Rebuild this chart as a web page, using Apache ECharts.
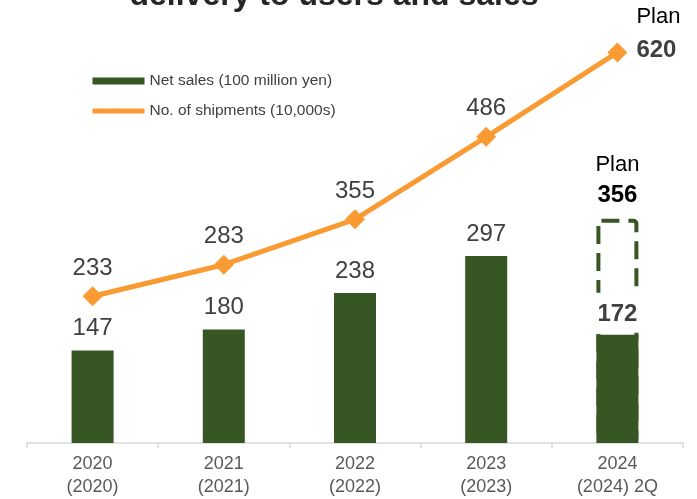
<!DOCTYPE html>
<html>
<head>
<meta charset="utf-8">
<script src="https://cdn.jsdelivr.net/npm/echarts@6/dist/echarts.min.js"></script>
<style>
  html, body { margin: 0; padding: 0; background: #fff; }
  #chart { width: 697px; height: 499px; }
</style>
</head>
<body>
<div id="chart"></div>
<script>
// Fiscal years on the category axis
const years = ['2020\n(2020)', '2021\n(2021)', '2022\n(2022)', '2023\n(2023)', '2024\n(2024) 2Q'];
// Net sales, 100 million yen (last year is results to 2Q)
const netSales = [147, 180, 238, 297, 172];
// Full-year net sales plan for the current year
const salesPlan = [null, null, null, null, 356];
// Number of shipments, 10,000s (last value is the plan)
const shipments = [233, 283, 355, 486, 620];

const FONT = "'Liberation Sans', Arial, sans-serif";
const GREEN = '#375623';
const ORANGE = '#F99A32';
const TEXT = '#404040';
const last = netSales.length - 1;

const chart = echarts.init(document.getElementById('chart'), null, { renderer: 'canvas' });

const option = {
  animation: false,
  textStyle: { fontFamily: FONT },
  graphic: [{
    type: 'text',
    x: 334,
    y: -4,
    style: {
      text: 'delivery to users and sales',
      font: 'bold 32px ' + FONT,
      fill: '#262626',
      align: 'center',
      verticalAlign: 'middle'
    }
  }],
  legend: {
    orient: 'vertical',
    left: 85,
    top: 68,
    itemWidth: 52,
    itemHeight: 7,
    itemGap: 14,
    textStyle: { fontSize: 15.5, color: TEXT, fontFamily: FONT },
    data: [
      { name: 'Net sales (100 million yen)', icon: 'rect' },
      { name: 'No. of shipments (10,000s)', lineStyle: { width: 5 } }
    ]
  },
  grid: { left: 27, right: 14, top: 2, bottom: 56 },
  xAxis: {
    type: 'category',
    data: years,
    axisLine: { lineStyle: { color: '#D9D9D9', width: 1.5 } },
    axisTick: { show: true, length: 5, lineStyle: { color: '#D9D9D9', width: 1.5 } },
    axisLabel: { fontSize: 18, lineHeight: 23, color: '#595959', margin: 10, fontFamily: FONT }
  },
  yAxis: {
    type: 'value',
    min: 0,
    max: 700,
    show: false,
    splitLine: { show: false }
  },
  series: [
    {
      name: 'Sales plan',
      type: 'bar',
      barWidth: 42,
      barGap: '-100%',
      data: salesPlan,
      itemStyle: {
        color: 'rgba(0,0,0,0)',
        borderColor: GREEN,
        borderWidth: 4,
        borderType: [18, 9],
        borderRadius: 3
      },
      label: {
        show: true,
        position: 'top',
        distance: 8,
        formatter: p => '{p|Plan}\n{v|' + p.value + '}',
        rich: {
          p: { fontSize: 22, color: '#000', fontFamily: FONT, lineHeight: 32 },
          v: { fontSize: 24, fontWeight: 'bold', color: '#000', fontFamily: FONT, lineHeight: 30 }
        }
      }
    },
    {
      name: 'Net sales (100 million yen)',
      type: 'bar',
      barWidth: 42,
      barGap: '-100%',
      itemStyle: { color: GREEN },
      data: netSales.map((v, i) => i === last ? {
        value: v,
        label: {
          fontWeight: 'bold',
          backgroundColor: '#fff',
          padding: [10, 4, 6, 4],
          distance: 2
        }
      } : v),
      label: {
        show: true,
        position: 'top',
        distance: 10,
        fontSize: 24,
        color: TEXT,
        fontFamily: FONT
      }
    },
    {
      name: 'No. of shipments (10,000s)',
      type: 'line',
      symbol: 'diamond',
      symbolSize: 20,
      lineStyle: { color: ORANGE, width: 5 },
      itemStyle: { color: ORANGE },
      data: shipments.map((v, i) => i === last ? {
        value: v,
        label: {
          position: 'right',
          distance: 9,
          offset: [0, -20],
          align: 'left',
          formatter: p => '{p|Plan}\n{v|' + p.value + '}',
          rich: {
            p: { fontSize: 22, color: '#000', fontFamily: FONT, lineHeight: 35 },
            v: { fontSize: 24, fontWeight: 'bold', color: TEXT, fontFamily: FONT, lineHeight: 30 }
          }
        }
      } : v),
      label: {
        show: true,
        position: 'top',
        distance: 6,
        fontSize: 24,
        color: TEXT,
        fontFamily: FONT
      },
      z: 3
    }
  ]
};

chart.setOption(option);
</script>
</body>
</html>
